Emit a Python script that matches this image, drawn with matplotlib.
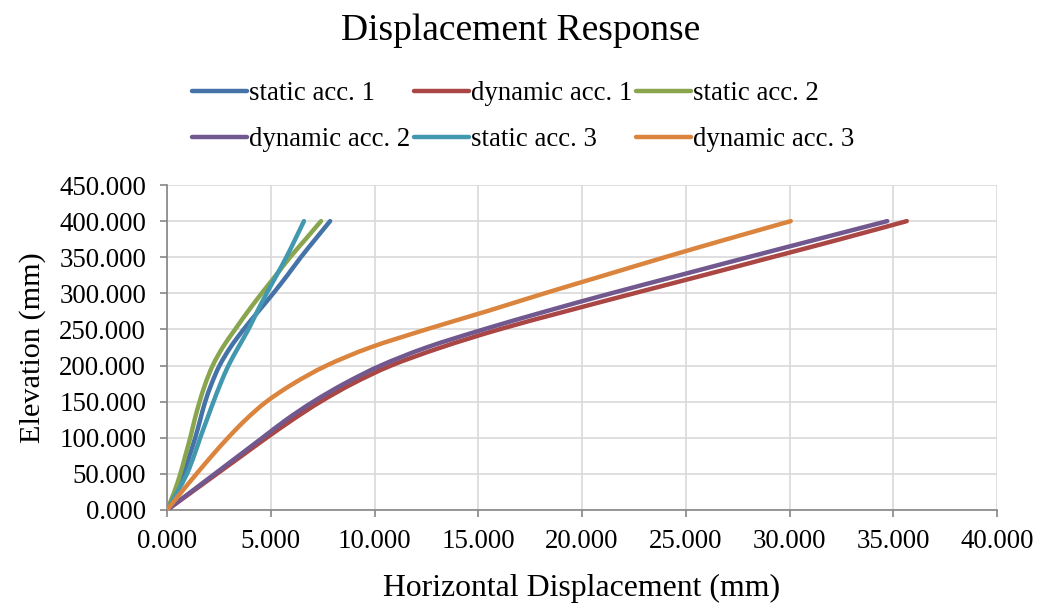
import matplotlib.pyplot as plt
from matplotlib.path import Path
from matplotlib.patches import PathPatch
from matplotlib.lines import Line2D
from matplotlib.ticker import FormatStrFormatter

plt.rcParams['font.family'] = ['Liberation Serif', 'DejaVu Serif']

# elevations (mm) for the static curves
elev_static = [0, 25, 50, 75, 100, 125, 150, 175, 200, 225, 250, 275, 300, 325, 350, 375, 400]
static1 = [0, 0.42, 0.80, 1.08, 1.36, 1.60, 1.84, 2.15, 2.53, 3.05, 3.69, 4.40, 5.12, 5.80, 6.45, 7.15, 7.86]
static2 = [0, 0.35, 0.64, 0.88, 1.12, 1.33, 1.57, 1.85, 2.20, 2.68, 3.28, 3.90, 4.56, 5.25, 5.93, 6.68, 7.42]
static3 = [0, 0.50, 0.96, 1.30, 1.60, 1.92, 2.24, 2.58, 2.96, 3.43, 3.92, 4.35, 4.80, 5.28, 5.75, 6.18, 6.60]

# elevations (mm) for the dynamic curves
elev_dyn = [0, 25, 50, 75, 100, 125, 150, 175, 200, 225, 250, 275, 300, 325, 350, 375, 400]
dynamic1 = [0, 1.20, 2.40, 3.60, 4.80, 6.05, 7.40, 8.95, 10.8, 13.2, 16.0, 19.2, 22.5, 25.85, 29.15, 32.45, 35.65]
dynamic2 = [0, 1.15, 2.30, 3.45, 4.60, 5.75, 7.05, 8.55, 10.3, 12.5, 15.25, 18.25, 21.4, 24.7, 28.0, 31.35, 34.71]
dynamic3 = [0, 0.70, 1.42, 2.16, 2.94, 3.79, 4.79, 6.09, 7.69, 9.79, 12.49, 15.39, 18.19, 21.09, 23.99, 26.99, 30.06]

labels = ['static acc. 1', 'dynamic acc. 1', 'static acc. 2',
          'dynamic acc. 2', 'static acc. 3', 'dynamic acc. 3']
colors = ['#4572A7', '#AA4643', '#89A54E', '#71588F', '#4198AF', '#DB843D']


def smooth_path(xs, ys):
    # excel style "smoothed line": bezier segments through the data points
    pts = list(zip(xs, ys))
    verts = [pts[0]]
    codes = [Path.MOVETO]
    n = len(pts)
    for i in range(n - 1):
        p0 = pts[i - 1] if i > 0 else pts[i]
        p1 = pts[i]
        p2 = pts[i + 1]
        p3 = pts[i + 2] if i + 2 < n else pts[i + 1]
        c1 = (p1[0] + (p2[0] - p0[0]) / 6, p1[1] + (p2[1] - p0[1]) / 6)
        c2 = (p2[0] - (p3[0] - p1[0]) / 6, p2[1] - (p3[1] - p1[1]) / 6)
        verts += [c1, c2, p2]
        codes += [Path.CURVE4] * 3
    return Path(verts, codes)


fig = plt.figure(figsize=(10.38, 6.08), dpi=100)
ax = fig.add_axes([0.1609, 0.1612, 0.7996, 0.5345])

series = [(static1, elev_static), (dynamic1, elev_dyn), (static2, elev_static),
          (dynamic2, elev_dyn), (static3, elev_static), (dynamic3, elev_dyn)]
handles = []
for (xs, ys), lab, c in zip(series, labels, colors):
    ax.add_patch(PathPatch(smooth_path(xs, ys), fill=False, edgecolor=c, lw=3.2,
                           capstyle='round', joinstyle='round', zorder=3))
    handles.append(Line2D([], [], color=c, lw=3.2, solid_capstyle='round'))

ax.set_xlim(0, 40)
ax.set_ylim(0, 450)
ax.set_xticks(range(0, 41, 5))
ax.set_yticks(range(0, 451, 50))
ax.xaxis.set_major_formatter(FormatStrFormatter('%.3f'))
ax.yaxis.set_major_formatter(FormatStrFormatter('%.3f'))
ax.grid(True, color='#d9d9d9', lw=1.2)
ax.set_axisbelow(True)
for s in ['top', 'right']:
    ax.spines[s].set_visible(False)
for s in ['left', 'bottom']:
    ax.spines[s].set_color('#868686')
    ax.spines[s].set_linewidth(1.2)
ax.tick_params(direction='out', length=5, width=1.2, color='#868686',
               labelsize=19.4)
ax.tick_params(axis='x', pad=9)
ax.tick_params(axis='y', pad=10)

ax.set_xlabel('Horizontal Displacement (mm)', fontsize=22.9, labelpad=14)
ax.set_ylabel('Elevation (mm)', fontsize=21.8, labelpad=9.5)
fig.text(0.502, 0.95, 'Displacement Response', fontsize=27, ha='center', va='center')

# legend is filled row by row in the reference, matplotlib fills by column
order = [0, 3, 1, 4, 2, 5]
fig.legend([handles[i] for i in order], [labels[i] for i in order],
           ncol=3, loc='center', bbox_to_anchor=(0.504, 0.808), frameon=False,
           fontsize=19.3, handlelength=2.05, handletextpad=0.08, columnspacing=0.15,
           labelspacing=0.78, borderpad=0.2)

fig.savefig('out.png', dpi=100)
